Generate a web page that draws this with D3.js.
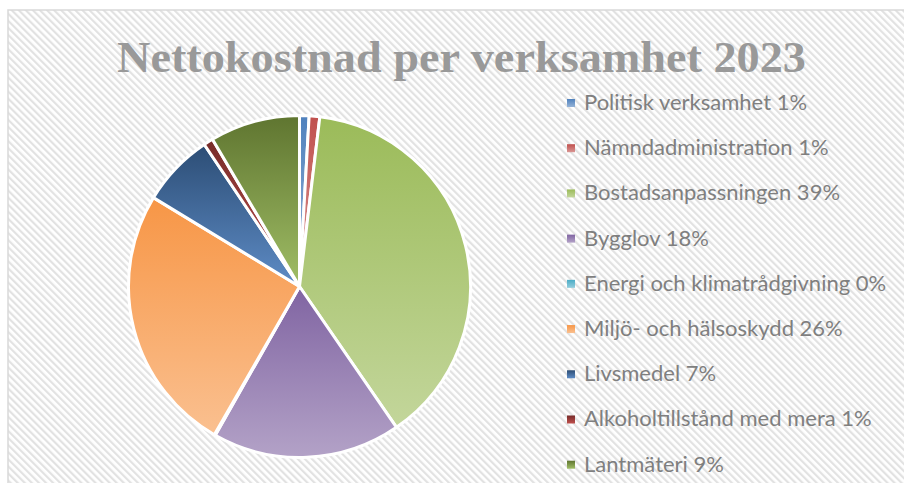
<!DOCTYPE html>
<html>
<head>
<meta charset="utf-8">
<script src="https://cdn.jsdelivr.net/npm/d3@7"></script>
<style>
html,body{margin:0;padding:0;background:#fff;}
svg{display:block;}
</style>
</head>
<body>
<svg id="chart" width="904" height="483"></svg>
<script>
const title = "Nettokostnad per verksamhet 2023";
const categories = ["Politisk verksamhet","Nämndadministration","Bostadsanpassningen","Bygglov","Energi och klimatrådgivning","Miljö- och hälsoskydd","Livsmedel","Alkoholtillstånd med mera","Lantmäteri"];
const values = [0.9, 1.0, 38.5, 17.8, 0.1, 25.4, 6.9, 0.9, 8.5];
const percentLabels = ["1%","1%","39%","18%","0%","26%","7%","1%","9%"];
const colorsTop = ["#4F81BD","#C0504D","#9BBB59","#8064A2","#4BACC6","#F79646","#2C4D75","#772C2A","#5F7530"];
const colorsBottom = ["#95B3D7","#D99694","#C3D69B","#B3A2C7","#93CDDD","#FAC090","#5E8CC6","#C0504D","#A0BE66"];

const W = 904, H = 483;
const svg = d3.select("#chart");
const defs = svg.append("defs");

// background hatch
const pat = defs.append("pattern").attr("id","hatch").attr("patternUnits","userSpaceOnUse")
  .attr("width",5).attr("height",5).attr("patternTransform","rotate(-45)");
pat.append("rect").attr("width",5).attr("height",5).attr("fill","#ffffff");
pat.append("rect").attr("x",0).attr("width",2.2).attr("height",5).attr("fill","#e2e2e2");

svg.append("rect").attr("x",0).attr("y",0).attr("width",W).attr("height",H).attr("fill","#fff");
svg.append("rect").attr("x",8).attr("y",10).attr("width",W).attr("height",H)
  .attr("fill","url(#hatch)").attr("stroke","#d9d9d9").attr("stroke-width",1.5);

// gradients
colorsTop.forEach((c,i)=>{
  const g = defs.append("linearGradient").attr("id","g"+i).attr("x1",0).attr("y1",0).attr("x2",0).attr("y2",1);
  g.append("stop").attr("offset","0%").attr("stop-color",c);
  g.append("stop").attr("offset","100%").attr("stop-color",colorsBottom[i]);
});

// title
svg.append("text").attr("x",461.5).attr("y",72).attr("text-anchor","middle")
  .attr("font-family","'Liberation Serif','DejaVu Serif',serif").attr("font-weight","bold")
  .attr("font-size",44).attr("fill","#999999")
  .attr("textLength",689).attr("lengthAdjust","spacingAndGlyphs").text(title);

// pie
const cx = 299.5, cy = 286.5, R = 171;
const pie = d3.pie().sort(null).value(d=>d);
const arc = d3.arc().innerRadius(0).outerRadius(R);
const g = svg.append("g").attr("transform",`translate(${cx},${cy})`);
g.selectAll("path").data(pie(values)).enter().append("path")
  .attr("d",arc).attr("fill",(d,i)=>`url(#g${i})`)
  .attr("stroke","#fff").attr("stroke-width",3).attr("stroke-linejoin","round");

// legend
const ly = d3.scalePoint().domain(d3.range(categories.length)).range([110, 471.7]);
const lg = svg.append("g");
categories.forEach((c,i)=>{
  const y = ly(i);
  lg.append("rect").attr("x",567).attr("y",y-11).attr("width",8).attr("height",8).attr("fill",`url(#g${i})`);
  lg.append("text").attr("x",584).attr("y",y).attr("font-family","Lato, 'Open Sans', sans-serif")
    .attr("font-size",22).attr("fill","#7f7f7f").text(c+" "+percentLabels[i]);
});
</script>
</body>
</html>
